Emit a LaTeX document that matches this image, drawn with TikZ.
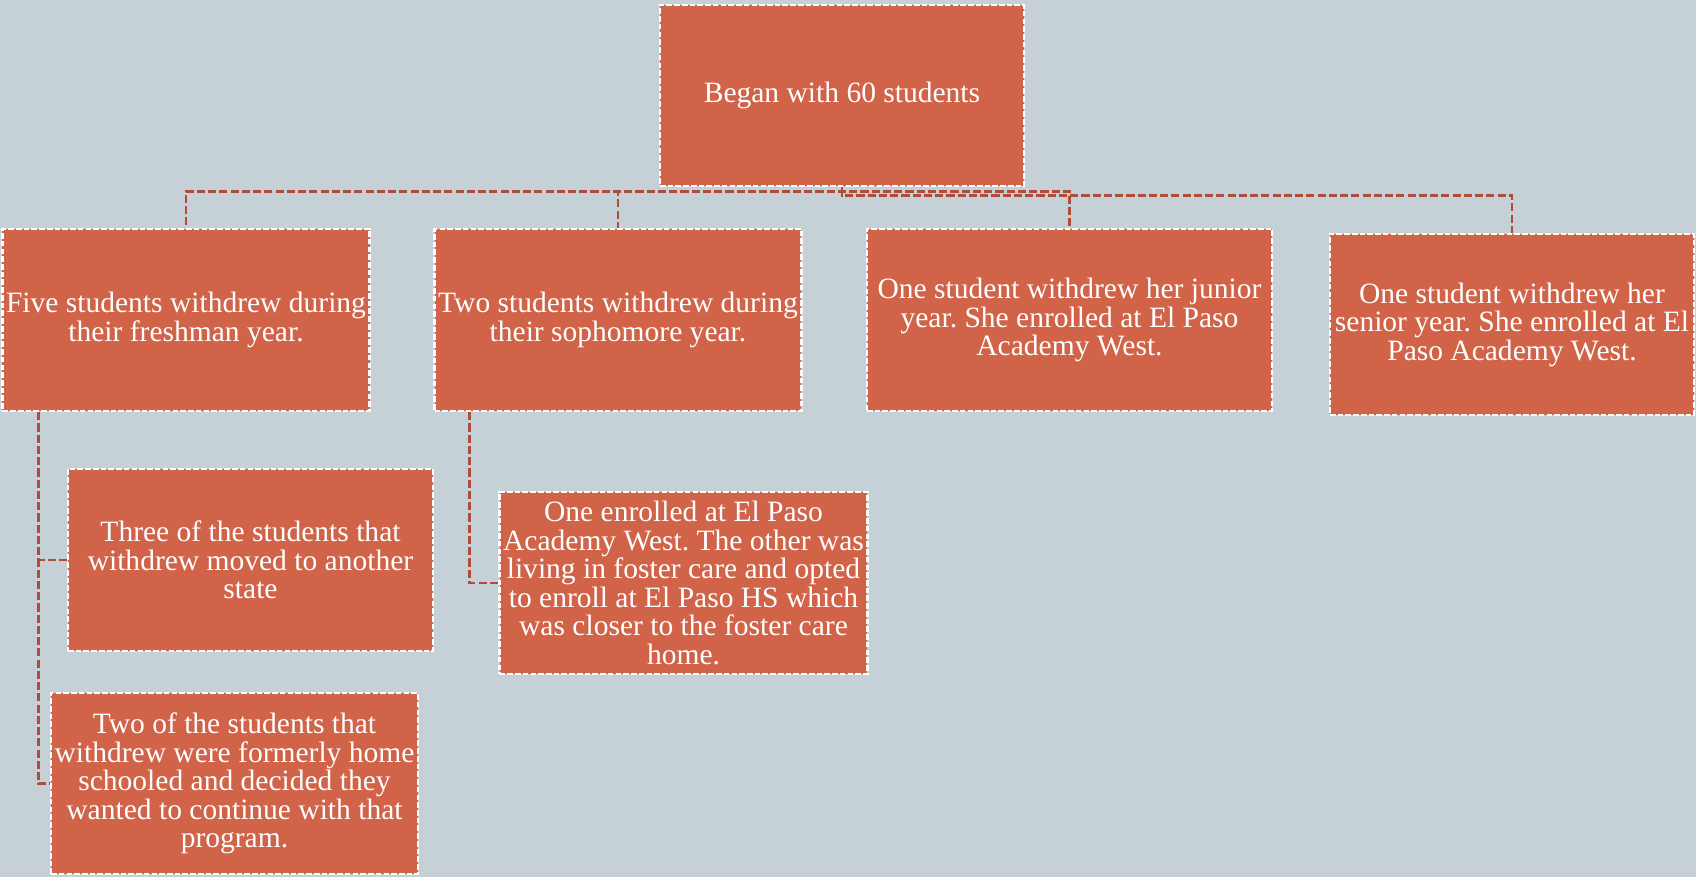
\documentclass[tikz,border=0pt]{standalone}
\usepackage{fontspec}
\setmainfont{Liberation Serif}
\usepackage{xcolor}
\usepackage{tikz}
\usetikzlibrary{positioning, calc}
\definecolor{paper}{RGB}{197,209,215}
\definecolor{rust}{RGB}{209,99,73}
\definecolor{wire}{RGB}{176,76,58}
\tikzset{
  card/.style ={rectangle, draw=white, fill=rust, line width=0.7pt,
                dash pattern=on 1.6pt off 0.6pt, text=white, align=center,
                inner sep=1pt, minimum width=3.64cm, minimum height=1.82cm,
                font=\fontsize{8.4}{8.1}\selectfont},
  link/.style ={draw=wire, line width=0.75pt, dash pattern=on 2.3pt off 0.9pt},
}
\frenchspacing

\begin{document}
\begin{tikzpicture}[x=1cm, y=1cm]
\fill[paper] (0,0) rectangle (16.96,8.77);
\useasboundingbox (0,0) rectangle (16.96,8.77);

\node[card, minimum height=1.81cm] (root) at (8.42, 7.815) {Began with 60 students};

\node[card, minimum width=3.66cm] (fresh) at (1.86, 5.57)
  {Five students withdrew during\\their freshman year.};
\node[card] (soph) at (6.18, 5.57)
  {Two students withdrew during\\their sophomore year.};
\node[card, minimum width=4.05cm] (junior) at (10.695, 5.57)
  {One student withdrew her junior\\year. She enrolled at El Paso\\Academy West.};
\node[card, minimum height=1.81cm] (senior) at (15.12, 5.525)
  {One student withdrew her\\senior year. She enrolled at El\\Paso Academy West.};

\node[card, minimum width=3.65cm] (moved) at (2.505, 3.17)
  {Three of the students that\\withdrew moved to another\\state};
\node[card, minimum width=3.65cm, minimum height=1.81cm] (home) at (2.345, 0.935)
  {Two of the students that\\withdrew were formerly home\\schooled and decided they\\wanted to continue with that\\program.};
\node[card, minimum width=3.65cm] (foster) at (6.835, 2.94)
  {One enrolled at El Paso\\Academy West. The other was\\living in foster care and opted\\to enroll at El Paso HS which\\was closer to the foster care\\home.};

\draw[link] (root.south) -- ++(0,-0.04) -| (fresh.north);
\draw[link] (root.south) -- ++(0,-0.04) -| (soph.north);
\draw[link] (root.south) -- ++(0,-0.04) -| (junior.north);
\draw[link] (root.south) -- ++(0,-0.08) -| (senior.north);

\draw[link] ($(fresh.south west)+(0.37,0)$) |- (moved.west);
\draw[link] ($(fresh.south west)+(0.37,0)$) |- (home.west);
\draw[link] ($(soph.south west)+(0.36,0)$) |- (foster.west);
\end{tikzpicture}
\end{document}
